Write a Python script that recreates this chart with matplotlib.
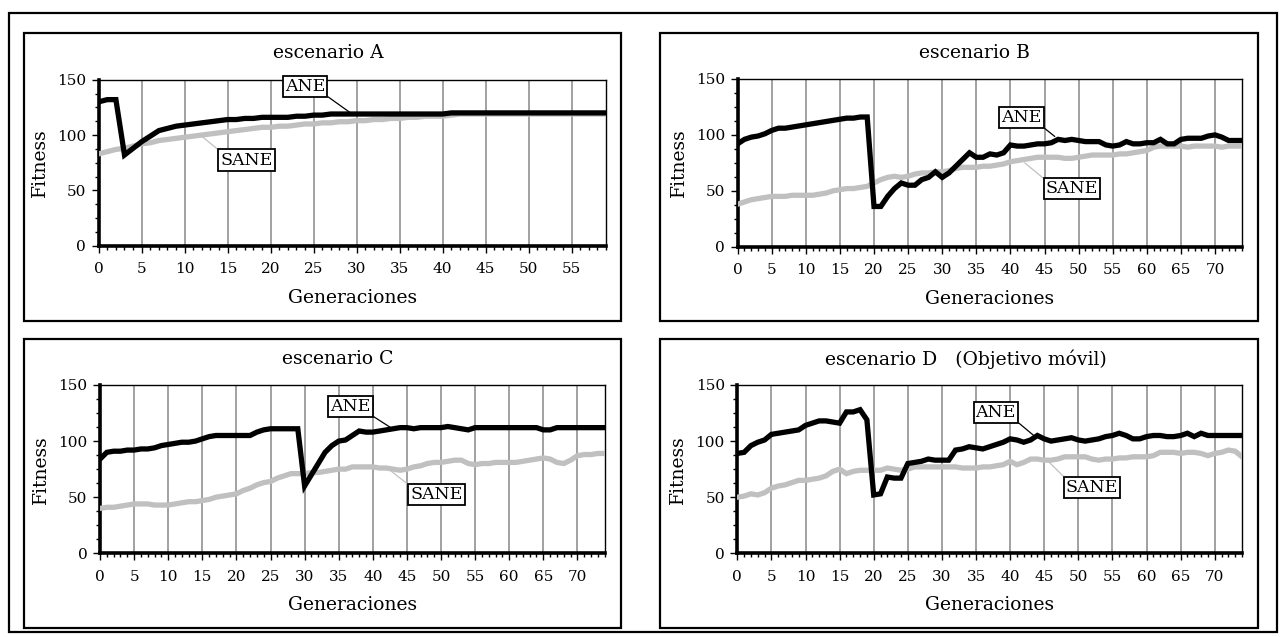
import matplotlib
matplotlib.use('Agg')
import matplotlib.pyplot as plt
import numpy as np
from matplotlib.patches import Rectangle
from matplotlib.ticker import MultipleLocator

# --- data ---
gen_a = np.arange(60)
gen_bcd = np.arange(75)

ane_a = [130, 132, 132, 82, 88, 94, 99, 104, 106, 108, 109, 110, 111, 112, 113, 114, 114, 115, 115, 116,
         116, 116, 116, 117, 117, 118, 118, 119, 119, 119, 119, 119, 119, 119, 119, 119, 119, 119, 119, 119,
         119, 120, 120, 120, 120, 120, 120, 120, 120, 120, 120, 120, 120, 120, 120, 120, 120, 120, 120, 120]
sane_a = [83, 85, 87, 88, 90, 92, 93, 95, 96, 97, 98, 99, 100, 101, 102, 103, 104, 105, 106, 107,
          107, 108, 108, 109, 110, 110, 111, 111, 112, 112, 113, 113, 114, 114, 115, 115, 116, 116, 117, 117,
          117, 118, 119, 119, 119, 119, 119, 119, 119, 119, 119, 119, 119, 119, 119, 119, 119, 119, 119, 119]

ane_b = [92, 96, 98, 99, 101, 104, 106, 106, 107, 108, 109, 110, 111, 112, 113, 114, 115, 115, 116, 116,
         36, 36, 45, 52, 57, 55, 55, 60, 62, 67, 62, 66, 72, 78, 84, 80, 80, 83, 82, 84,
         91, 90, 90, 91, 92, 92, 93, 96, 95, 96, 95, 94, 94, 94, 91, 90, 91, 94, 92, 92,
         93, 93, 96, 92, 92, 96, 97, 97, 97, 99, 100, 98, 95, 95, 95]
sane_b = [38, 40, 42, 43, 44, 45, 45, 45, 46, 46, 46, 46, 47, 48, 50, 51, 52, 52, 53, 54,
          57, 60, 62, 63, 62, 63, 65, 66, 66, 67, 67, 68, 70, 71, 71, 71, 72, 72, 73, 74,
          76, 77, 78, 79, 80, 80, 80, 80, 79, 79, 80, 81, 82, 82, 82, 82, 83, 83, 84, 85,
          86, 89, 90, 90, 90, 90, 89, 90, 90, 90, 90, 89, 90, 90, 90]

ane_c = [84, 90, 91, 91, 92, 92, 93, 93, 94, 96, 97, 98, 99, 99, 100, 102, 104, 105, 105, 105,
         105, 105, 105, 108, 110, 111, 111, 111, 111, 111, 60, 70, 80, 90, 96, 100, 101, 105, 109, 108,
         108, 109, 110, 111, 112, 112, 111, 112, 112, 112, 112, 113, 112, 111, 110, 112, 112, 112, 112, 112,
         112, 112, 112, 112, 112, 110, 110, 112, 112, 112, 112, 112, 112, 112, 112]
sane_c = [40, 41, 41, 42, 43, 44, 44, 44, 43, 43, 43, 44, 45, 46, 46, 47, 48, 50, 51, 52,
          53, 56, 58, 61, 63, 64, 67, 69, 71, 71, 71, 72, 72, 73, 74, 75, 75, 77, 77, 77,
          77, 76, 76, 75, 74, 75, 77, 78, 80, 81, 81, 82, 83, 83, 80, 79, 80, 80, 81, 81,
          81, 81, 82, 83, 84, 85, 84, 81, 80, 83, 87, 88, 88, 89, 89]

ane_d = [89, 90, 96, 99, 101, 106, 107, 108, 109, 110, 114, 116, 118, 118, 117, 116, 126, 126, 128, 119,
         52, 53, 68, 67, 67, 80, 81, 82, 84, 83, 83, 83, 92, 93, 95, 94, 93, 95, 97, 99,
         102, 101, 99, 101, 105, 102, 100, 101, 102, 103, 101, 100, 101, 102, 104, 105, 107, 105, 102, 102,
         104, 105, 105, 104, 104, 105, 107, 104, 107, 105, 105, 105, 105, 105, 105]
sane_d = [50, 51, 53, 52, 54, 58, 60, 61, 63, 65, 65, 66, 67, 69, 73, 75, 71, 73, 74, 74,
          74, 74, 76, 75, 74, 75, 77, 77, 77, 77, 77, 77, 77, 76, 76, 76, 77, 77, 78, 79,
          82, 79, 81, 84, 84, 83, 83, 84, 86, 86, 86, 86, 84, 83, 84, 84, 85, 85, 86, 86,
          86, 87, 90, 90, 90, 89, 90, 90, 89, 87, 89, 90, 92, 91, 86]

titles = ['escenario A', 'escenario B', 'escenario C', 'escenario D   (Objetivo móvil)']

W, H = 1286, 637
fig = plt.figure(figsize=(W / 100, H / 100), dpi=100)
serif = 'DejaVu Serif'
GRAY = '#c0c0c0'


def pxbox(l, r, t, b):
    return [l / W, 1 - b / H, (r - l) / W, (b - t) / H]


# outer frame + panel frames
fig.patches.append(Rectangle((9 / W, 1 - 632 / H), (1277 - 9) / W, (632 - 13) / H,
                             transform=fig.transFigure, fill=False, ec='black', lw=1.6))
frames = [(24, 621, 33, 321), (660, 1258, 33, 321), (24, 621, 339, 628), (660, 1258, 339, 628)]
for l, r, t, b in frames:
    fig.patches.append(Rectangle((l / W, 1 - b / H), (r - l) / W, (b - t) / H,
                                 transform=fig.transFigure, fill=False, ec='black', lw=1.6))

axes_px = [(98.7, 606, 79.7, 245.7), (737.6, 1242.3, 79, 246.7),
           (100, 604.7, 385, 553.3), (737.3, 1242, 385, 553.3)]
title_shift = [6, 15, 15, 7]
gens = [gen_a, gen_bcd, gen_bcd, gen_bcd]
anes = [ane_a, ane_b, ane_c, ane_d]
sanes = [sane_a, sane_b, sane_c, sane_d]
# (curve point, box centre) for ANE and SANE labels
ane_lab = [((29.2, 120.5), (24.0, 144)), ((46.5, 98.6), (41.6, 115.7)),
           ((42.5, 112.5), (36.7, 131.2)), ((43.4, 105.3), (37.9, 125.8))]
sane_lab = [((12.1, 98.2), (17.2, 77.4)), ((42.1, 75), (49, 52)),
            ((42.5, 74.2), (49.3, 52.4)), ((45.1, 84.9), (52, 59))]

for i in range(4):
    l, r, t, b = axes_px[i]
    ax = fig.add_axes(pxbox(l, r, t, b))
    x = gens[i]
    ax.plot(x, sanes[i], color=GRAY, lw=3.8, solid_joinstyle='miter', zorder=3)
    ax.plot(x, anes[i], color='black', lw=3.8, solid_joinstyle='miter', zorder=4)
    ax.set_xlim(0, x[-1])
    ax.set_ylim(0, 150)
    ax.xaxis.set_major_locator(MultipleLocator(5))
    ax.xaxis.set_minor_locator(MultipleLocator(1))
    ax.yaxis.set_major_locator(MultipleLocator(50))
    ax.yaxis.set_minor_locator(MultipleLocator(12.5))
    ax.grid(axis='x', which='major', color='#9a9a9a', lw=1.3, zorder=1)
    ax.tick_params(which='major', direction='out', length=5, width=1, labelsize=11)
    ax.tick_params(axis='x', which='major', pad=7)
    ax.tick_params(axis='y', which='major', pad=4)
    ax.tick_params(which='minor', direction='out', length=3, width=1)
    for lab in ax.get_xticklabels() + ax.get_yticklabels():
        lab.set_fontfamily(serif)
    ax.spines['left'].set_linewidth(2.6)
    ax.spines['bottom'].set_linewidth(2.6)
    ax.spines['top'].set_linewidth(1.0)
    ax.spines['right'].set_linewidth(1.0)
    ax.set_axisbelow(True)

    fl, fr, ft, fb = frames[i]
    fig.text(((fl + fr) / 2 + title_shift[i]) / W, 1 - (ft + 20) / H, titles[i],
             ha='center', va='center', fontsize=13.5, family=serif)
    fig.text(((l + r) / 2) / W, 1 - (b + 52) / H, 'Generaciones', ha='center', va='center',
             fontsize=13.5, family=serif)
    fig.text((l - 59) / W, 1 - ((t + b) / 2) / H, 'Fitness', ha='center', va='center',
             rotation=90, fontsize=13.5, family=serif)

    (px_, py_), (tx, ty) = ane_lab[i]
    ax.annotate('ANE', xy=(px_, py_), xytext=(tx, ty), ha='center', va='center',
                fontsize=12.5, family=serif, zorder=6, annotation_clip=False,
                bbox=dict(boxstyle='square,pad=0.12', fc='white', ec='black', lw=1.3),
                arrowprops=dict(arrowstyle='-', color='black', lw=0.9, relpos=(1, 0),
                                shrinkA=0, shrinkB=0))
    (px_, py_), (tx, ty) = sane_lab[i]
    ax.annotate('SANE', xy=(px_, py_), xytext=(tx, ty), ha='center', va='center',
                fontsize=12.5, family=serif, zorder=6, annotation_clip=False,
                bbox=dict(boxstyle='square,pad=0.12', fc='white', ec='black', lw=1.3),
                arrowprops=dict(arrowstyle='-', color=GRAY, lw=0.9, relpos=(0, 1),
                                shrinkA=0, shrinkB=0))

fig.savefig('out.png', dpi=100)
